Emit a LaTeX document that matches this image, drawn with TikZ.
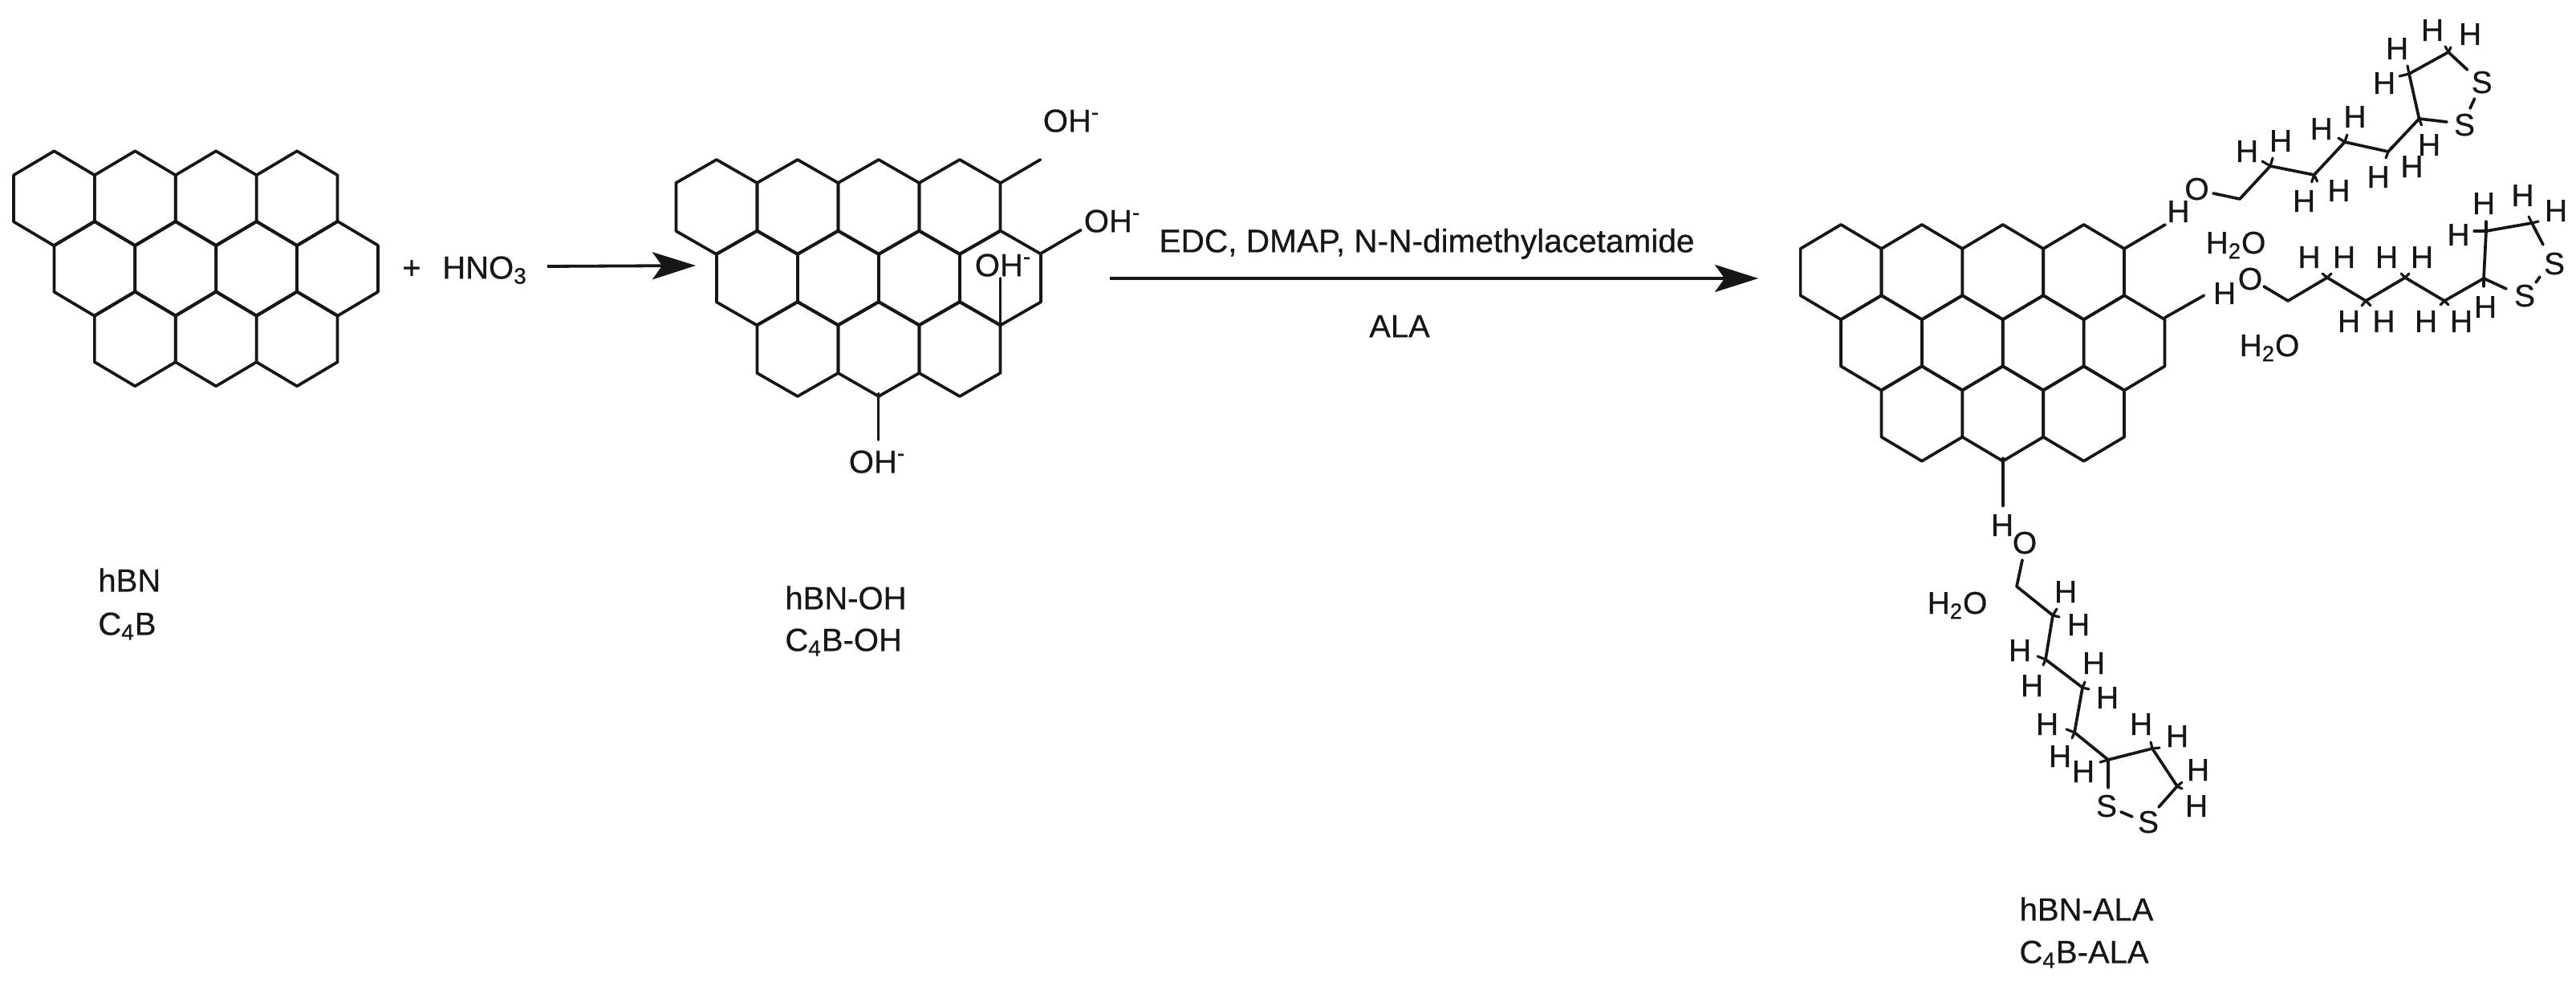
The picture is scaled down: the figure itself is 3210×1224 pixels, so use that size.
\documentclass[tikz,border=0pt]{standalone}
\usepackage{fontspec}
\setmainfont{Liberation Sans}[FakeBold=0.5]
\usetikzlibrary{arrows.meta}
\definecolor{ink}{HTML}{161616}
\newcommand{\bnlattice}[6]{%
  \foreach \i/\r in {1/0,3/0,5/0,7/0,2/1,4/1,6/1,8/1,3/2,5/2,7/2}{
    \pgfmathsetmacro{\xa}{#1+(\i-1)*#2}
    \pgfmathsetmacro{\xb}{#1+\i*#2}
    \pgfmathsetmacro{\xc}{#1+(\i+1)*#2}
    \pgfmathsetmacro{\ya}{#3+\r*#6}
    \pgfmathsetmacro{\yb}{\ya+#4}
    \pgfmathsetmacro{\yc}{\yb+#5}
    \pgfmathsetmacro{\yd}{\yc+#4}
    \draw[bond] (\xa,\yb) -- (\xb,\ya) -- (\xc,\yb) -- (\xc,\yc) -- (\xb,\yd) -- (\xa,\yc) -- cycle;
  }}
\begin{document}
\begin{tikzpicture}[x=.5pt,y=-.5pt,
  bond/.style={draw=ink,line width=1.85pt,line join=round,line cap=round},
  stub/.style={draw=ink,line width=1.6pt,line cap=round},
  bar/.style={draw=ink,line width=1.9pt},
  rarrow/.style={bar,-{Stealth[length=27pt,width=17pt,inset=6pt]}},
  lab/.style={text=ink,inner sep=0pt,text height=14.4pt,text depth=0pt,font=\fontsize{20}{22}\selectfont},
  hatom/.style={text=ink,inner sep=0pt,text height=14pt,text depth=0pt,font=\fontsize{19.5}{20}\selectfont},
  atom/.style={text=ink,inner sep=0pt,text height=14pt,text depth=0pt,font=\fontsize{19.5}{20}\selectfont}]
\useasboundingbox (0,0) rectangle (3210,1224);
\fill[white] (0,0) rectangle (3210,1224);
% lattices
\bnlattice{17}{50.44}{188.3}{30}{58}{87.5}
\bnlattice{842.4}{50.5}{199}{29}{60}{88.5}
\bnlattice{2243.6}{50.43}{280}{30}{58.3}{88.2}
% reagents and arrows
\node[lab] (plus) at (513,333) {+};
\node[lab] (hno) at (604,333) {HNO\textsubscript{3}};
\coordinate (a1s) at (682,332); \coordinate (a1e) at (867,331);
\draw[rarrow] (a1s) -- (a1e);
\coordinate (a2s) at (1383,347); \coordinate (a2e) at (2191,347);
\draw[rarrow] (a2s) -- (a2e);
\node[lab,font=\fontsize{20.3}{22}\selectfont] (cond) at (1778,300) {EDC, DMAP, N-N-dimethylacetamide};
\node[lab] (ala) at (1744,406) {ALA};
% captions
\node[lab,anchor=west] (c1a) at (122,723) {hBN};
\node[lab,anchor=west] (c1b) at (122,777) {C\textsubscript{4}B};
\node[lab,anchor=west] (c2a) at (978,745) {hBN-OH};
\node[lab,anchor=west] (c2b) at (978,797) {C\textsubscript{4}B-OH};
\node[lab] (c3a) at (2600,1133) {hBN-ALA};
\node[lab] (c3b) at (2597,1186) {C\textsubscript{4}B-ALA};
% hydroxyls on middle sheet
\draw[bond] (1246.4,228.3) -- (1296.4,199);
\draw[bond] (1296.9,316) -- (1346.9,286.7);
\draw[bond] (1246.4,404) -- (1246.4,346.7);
\draw[bond] (1094.6,490.7) -- (1094.6,548);
\node[lab] (oh1) at (1335,150) {OH\textsuperscript{-}};
\node[lab] (oh2) at (1386,275) {OH\textsuperscript{-}};
\node[lab] (oh3) at (1250,330) {OH\textsuperscript{-}};
\node[lab] (oh4) at (1093,575) {OH\textsuperscript{-}};
% links on right sheet
\draw[bond] (2647,310) -- (2698,280);
\draw[bond] (2697.5,396) -- (2746.4,368.3);
\draw[bond,line width=2.3pt] (2496,571.7) -- (2496,630);
% chain 1
\draw[bond] (2758,241) -- (2791,248) -- (2829,207) -- (2883.6,218) -- (2921.8,177) -- (2976,189) -- (3014.5,148) -- (3049,152);
\draw[bond] (3014.5,148) -- (3002,92) -- (3051,65) -- (3074.5,87);
\draw[bond] (3083.6,123) -- (3078,135);
\foreach \x/\y/\u/\v in {2829/207/-10/-6,2829/207/3/-10,2883.6/218/-3/9,2883.6/218/4/8,2921.8/177/-8/-5,2921.8/177/3/-9,2976/189/-3/8,2976/189/5/-6,3014.5/148/3/8,3002/92/-12/3,3002/92/-2/-10,3051/65/-4/-7,3051/65/3/-6}
  \draw[stub] (\x,\y) -- ++(\u,\v);
\node[atom] (o1) at (2737.5,235) {O};
\node[atom] (s1a) at (3092.7,102) {S};
\node[atom] (s1b) at (3071,155) {S};
\foreach \x/\y [count=\n] in {2714.5/263,2800/188,2842/175,2871/250,2914.5/237,2892.7/160,2934.5/145,2963.6/220,3005.5/207,3027/180,2971/103,2987/60,3031/37,3078/42}
  \node[hatom] (ha\n) at (\x,\y) {H};
% chain 2
\draw[bond] (2821,357) -- (2851,375) -- (2900,346) -- (2948,375) -- (2997,346) -- (3046,375) -- (3095,347) -- (3123,360);
\draw[bond] (3095,347) -- (3098,288) -- (3155,278) -- (3169,305);
\draw[bond] (3165,345) -- (3160,352);
\foreach \x/\y/\u/\v in {2900/346/-6/-5,2900/346/5/-5,2948/375/-5/6,2948/375/6/6,2997/346/-5/-5,2997/346/5/-5,3046/375/-5/5,3046/375/5/5,3095/347/0/10,3098/288/-15/0,3098/288/0/-12,3155/278/-4/-8,3155/278/8/-2}
  \draw[stub] (\x,\y) -- ++(\u,\v);
\node[atom] (o2) at (2804,347) {O};
\node[atom] (s2a) at (3183,328) {S};
\node[atom] (s2b) at (3146,368) {S};
\node[atom] (w1) at (2786,302) {H\textsubscript{2}O};
\node[atom] (w2) at (2828,430) {H\textsubscript{2}O};
\foreach \x/\y [count=\n] in {2772/365,2877.5/320,2921/320,2974/320,3018/320,2927/400,2970.5/400,3023/400,3067/400,3097/382,3063.5/292,3095/253,3143.5/243,3185/262}
  \node[hatom] (hb\n) at (\x,\y) {H};
% chain 3
\draw[bond] (2520,698) -- (2513,731) -- (2558,767) -- (2549,822) -- (2595,857) -- (2585,913) -- (2627,947) -- (2627,982);
\draw[bond] (2627,947) -- (2682,933) -- (2713,980) -- (2690,1006);
\draw[bond] (2643,1012) -- (2657,1018);
\foreach \x/\y/\u/\v in {2558/767/5/-8,2558/767/8/2,2549/822/-10/-4,2549/822/-3/7,2595/857/3/-7,2595/857/8/2,2585/913/-10/-4,2585/913/-3/7,2627/947/-10/3,2682/933/-2/-8,2682/933/9/-1,2713/980/6/-5,2713/980/6/3}
  \draw[stub] (\x,\y) -- ++(\u,\v);
\node[atom] (o3) at (2523,676) {O};
\node[atom] (s3a) at (2625,1004) {S};
\node[atom] (s3b) at (2677,1024) {S};
\node[atom] (w3) at (2439,751) {H\textsubscript{2}O};
\foreach \x/\y [count=\n] in {2495/654,2574/737,2590/778,2517/810,2532/854,2609/826,2626/869,2551/902,2567/942,2596/961,2668/902,2713/917,2739/959,2737/1004}
  \node[hatom] (hc\n) at (\x,\y) {H};
\end{tikzpicture}
\end{document}
